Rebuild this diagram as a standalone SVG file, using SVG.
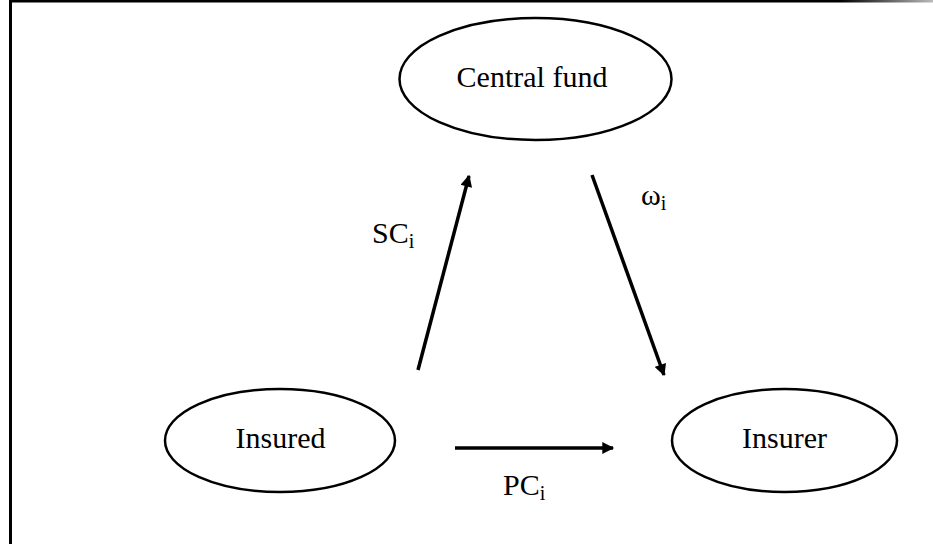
<svg xmlns="http://www.w3.org/2000/svg" width="933" height="544" viewBox="0 0 933 544">
<defs>
<style>
.node ellipse{fill:#fff;stroke:#000;stroke-width:2.5}
text{font-family:"Liberation Serif","Times New Roman",serif;font-size:30px;fill:#000}
.sub{font-size:20px}
.conn line{stroke:#000;stroke-width:3.5}
</style>
<marker id="ah" viewBox="0 0 10 10" refX="9" refY="5" markerWidth="4" markerHeight="3.4" orient="auto" markerUnits="strokeWidth">
<path d="M0,0 L10,5 L0,10 Z" fill="#000"/>
</marker>
<linearGradient id="fade" x1="0" y1="0" x2="1" y2="0">
<stop offset="0" stop-color="#000"/>
<stop offset="0.9" stop-color="#000"/>
<stop offset="1" stop-color="#bbb"/>
</linearGradient>
</defs>
<rect x="0" y="0" width="933" height="544" fill="#fff"/>
<g id="frame">
<line x1="10.5" y1="0" x2="10.5" y2="544" stroke="#000" stroke-width="3"/>
<rect x="9" y="0" width="924" height="2.5" fill="url(#fade)"/>
</g>
<g id="central-fund" class="node">
<ellipse cx="535.5" cy="79" rx="136" ry="61"/>
<text x="532" y="87" text-anchor="middle">Central fund</text>
</g>
<g id="insured" class="node">
<ellipse cx="280" cy="440.5" rx="115" ry="51.5"/>
<text x="280.5" y="448" text-anchor="middle">Insured</text>
</g>
<g id="insurer" class="node">
<ellipse cx="784.5" cy="440.5" rx="112.5" ry="51.5"/>
<text x="784.5" y="448" text-anchor="middle">Insurer</text>
</g>
<g id="connectors" class="conn">
<line x1="418" y1="370" x2="469" y2="176" marker-end="url(#ah)"/>
<line x1="592" y1="175" x2="664" y2="375" marker-end="url(#ah)"/>
<line x1="455" y1="448" x2="613" y2="448" marker-end="url(#ah)"/>
</g>
<g id="labels">
<text x="372" y="243">SC<tspan class="sub" dy="5">i</tspan></text>
<text x="641" y="205">ω<tspan class="sub" dy="5">i</tspan></text>
<text x="503" y="495">PC<tspan class="sub" dy="5">i</tspan></text>
</g>
</svg>
